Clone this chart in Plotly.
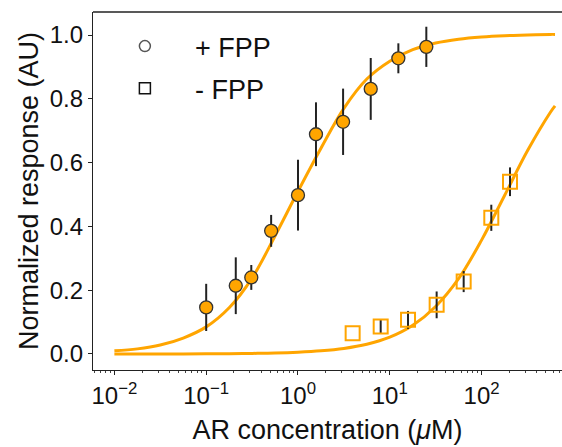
import plotly.graph_objects as go

# +FPP measurements
plus_x = [0.1, 0.21, 0.31, 0.51, 1.0, 1.57, 3.1, 6.2, 12.4, 25.0]
plus_y = [0.146, 0.214, 0.240, 0.386, 0.498, 0.689, 0.728, 0.831, 0.927, 0.963]
plus_err = [0.074, 0.089, 0.039, 0.050, 0.111, 0.100, 0.104, 0.097, 0.047, 0.063]

# -FPP measurements
minus_x = [3.94, 7.96, 15.8, 32.4, 63.8, 127.6, 204.0]
minus_y = [0.065, 0.086, 0.107, 0.154, 0.227, 0.427, 0.540]
minus_err = [0.0, 0.022, 0.028, 0.042, 0.033, 0.041, 0.045]

# fitted curves
curve_x = [0.01, 0.0178, 0.0316, 0.0562, 0.1, 0.178, 0.316, 0.562, 1.0, 1.78, 3.16,
           5.62, 10.0, 17.8, 31.6, 56.2, 100.0, 178.0, 316.0, 562.0, 631.0]
plus_fit = [0.010, 0.016, 0.028, 0.050, 0.085, 0.145, 0.238, 0.370, 0.510, 0.645, 0.770,
            0.862, 0.918, 0.954, 0.975, 0.987, 0.994, 0.998, 1.000, 1.002, 1.002]
minus_fit = [0.0001, 0.0001, 0.0002, 0.0003, 0.0006, 0.001, 0.0018, 0.003, 0.0055, 0.0098, 0.0173,
             0.0303, 0.0526, 0.0899, 0.149, 0.236, 0.357, 0.497, 0.637, 0.758, 0.778]

x_tickvals = [0.01, 0.1, 1, 10, 100]
x_ticktext = ["10<sup>\u22122</sup>", "10<sup>\u22121</sup>", "10<sup>0</sup>", "10<sup>1</sup>", "10<sup>2</sup>"]
y_tickvals = [0.0, 0.2, 0.4, 0.6, 0.8, 1.0]
y_ticktext = ["0.0", "0.2", "0.4", "0.6", "0.8", "1.0"]
minor_vals = [m * 10 ** e for e in range(-3, 3) for m in range(2, 10)]

ORANGE = "#FFA500"
FONT = "Arial, Liberation Sans, sans-serif"

fig = go.Figure()
fig.add_trace(go.Scatter(x=curve_x, y=plus_fit, mode="lines", line=dict(color=ORANGE, width=3, shape="spline"),
                         showlegend=False, hoverinfo="skip"))
fig.add_trace(go.Scatter(x=curve_x, y=minus_fit, mode="lines", line=dict(color=ORANGE, width=3, shape="spline"),
                         showlegend=False, hoverinfo="skip"))
fig.add_trace(go.Scatter(x=plus_x, y=plus_y, mode="markers",
                         marker=dict(symbol="circle", size=13, color=ORANGE, line=dict(color="#333333", width=1.3)),
                         error_y=dict(type="data", array=plus_err, color="#222222", thickness=2, width=0),
                         showlegend=False))
fig.add_trace(go.Scatter(x=minus_x, y=minus_y, mode="markers",
                         marker=dict(symbol="square-open", size=14, color=ORANGE, line=dict(color=ORANGE, width=2)),
                         error_y=dict(type="data", array=minus_err, color="#222222", thickness=2, width=0),
                         showlegend=False))
# legend entries
fig.add_trace(go.Scatter(x=[None], y=[None], mode="markers", name="\u00a0\u00a0\u00a0\u00a0+ FPP", legendgroup="a",
                         marker=dict(symbol="circle-open", size=11, color="#555555", line=dict(width=1.5)),
                         xaxis="x2"))
fig.add_trace(go.Scatter(x=[None], y=[None], mode="markers", name="\u00a0\u00a0\u00a0\u00a0- FPP", legendgroup="b",
                         marker=dict(symbol="square-open", size=11, color="#111111", line=dict(width=1.5)),
                         xaxis="x2"))

xr = [-2.233, 2.876]
fig.update_layout(
    width=562, height=447,
    margin=dict(l=93, r=0, t=12, b=77),
    paper_bgcolor="white", plot_bgcolor="white",
    font=dict(family=FONT, color="#111111"),
    xaxis=dict(type="log", range=xr, tickvals=x_tickvals, ticktext=x_ticktext,
               ticks="outside", ticklen=4, tickwidth=1.2, tickcolor="#222222",
               showline=True, linecolor="#222222", linewidth=1.3, showgrid=False, zeroline=False,
               tickfont=dict(size=24), title=dict(text="AR concentration (<i>\u03bc</i>M)", font=dict(size=27), standoff=12)),
    xaxis2=dict(type="log", range=xr, overlaying="x", side="bottom", tickvals=minor_vals,
                showticklabels=False, ticks="outside", ticklen=2, tickwidth=1, tickcolor="#444444",
                showgrid=False, zeroline=False, showline=False),
    yaxis=dict(range=[-0.0502, 1.0722], tickvals=y_tickvals, ticktext=y_ticktext,
               ticks="outside", ticklen=4, tickwidth=1.2, tickcolor="#222222",
               showline=True, linecolor="#222222", linewidth=1.3, showgrid=False, zeroline=False,
               tickfont=dict(size=24), title=dict(text="Normalized response (AU)", font=dict(size=27), standoff=3)),
    legend=dict(x=0.068, y=0.972, xanchor="left", yanchor="top", font=dict(size=27),
                bgcolor="rgba(0,0,0,0)", tracegroupgap=4, itemwidth=30),
    shapes=[dict(type="line", xref="paper", yref="paper", x0=0, x1=1, y0=1, y1=1,
                 line=dict(color="#222222", width=1.3))],
)

fig.write_html("out.html", config={"displayModeBar": False},
               post_script="document.body.style.margin='0';document.body.style.overflow='hidden';")
